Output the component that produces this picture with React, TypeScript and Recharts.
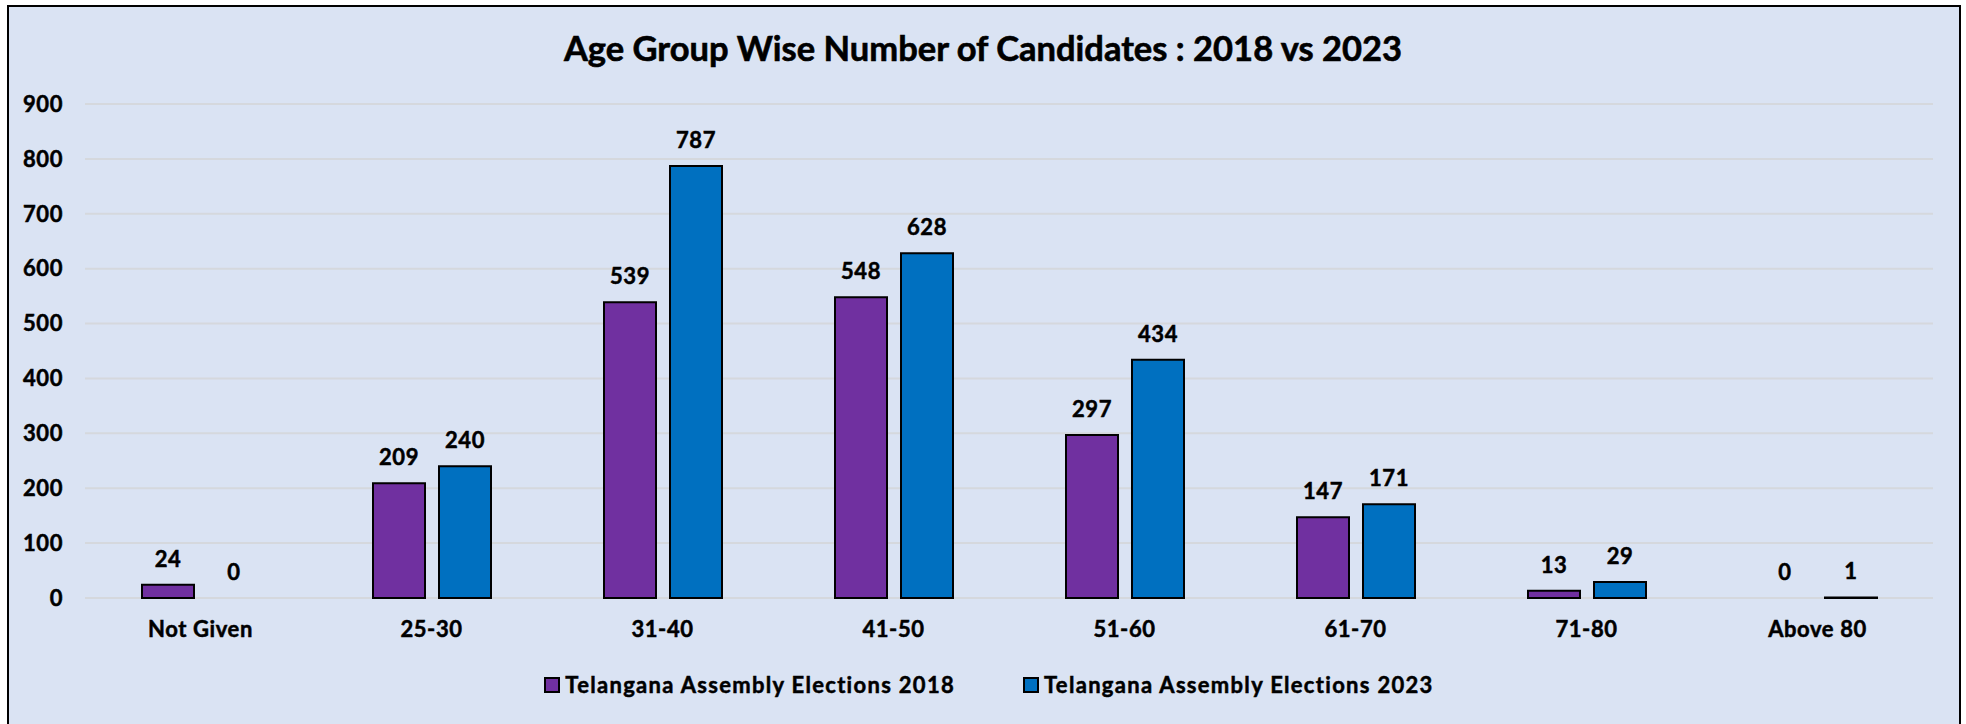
import React from "react";
import { BarChart, Bar, XAxis, YAxis, CartesianGrid, LabelList, Cell } from "recharts";

const ageGroups = ["Not Given", "25-30", "31-40", "41-50", "51-60", "61-70", "71-80", "Above 80"];
const elections2018 = [24, 209, 539, 548, 297, 147, 13, 0];
const elections2023 = [0, 240, 787, 628, 434, 171, 29, 1];
const yTicks = [0, 100, 200, 300, 400, 500, 600, 700, 800, 900];

const name2018 = "Telangana Assembly Elections 2018";
const name2023 = "Telangana Assembly Elections 2023";

const PURPLE = "#7030A0";
const BLUE = "#0070C0";
const FONT = "Lato, 'Noto Sans', sans-serif";

const data = ageGroups.map((g, i) => ({
  group: g,
  y2018: elections2018[i],
  y2023: elections2023[i],
}));

const textStyle = {
  fill: "#000",
  fontSize: 22,
  fontWeight: 700,
  fontFamily: FONT,
  stroke: "#000",
  strokeWidth: 0.5,
  letterSpacing: 0.6,
};

// zero-valued bars still need a (tiny) rect so their "0" label is drawn
const zeroMin = (value: any) => (value === 0 ? 0.01 : 0);

function LegendItem({ color, label }: { color: string; label: string }) {
  return (
    <div style={{ display: "flex", alignItems: "center" }}>
      <span
        style={{
          width: 12,
          height: 12,
          background: color,
          border: "2px solid #000",
          marginRight: 5,
        }}
      />
      <span>{label}</span>
    </div>
  );
}

export default function App() {
  return (
    <div style={{ position: "absolute", left: 0, top: 0, width: 1966, height: 724, background: "#fff", overflow: "hidden" }}>
      <div
        style={{
          position: "absolute",
          left: 7,
          top: 5,
          width: 1950,
          height: 740,
          background: "#DAE3F3",
          border: "2px solid #000",
        }}
      />
      <div
        style={{
          position: "absolute",
          left: 0,
          top: 28,
          width: 1966,
          textAlign: "center",
          fontFamily: FONT,
          fontWeight: 700,
          fontSize: 34.5,
          lineHeight: "40px",
          color: "#000",
          WebkitTextStroke: "0.6px #000",
        }}
      >
        Age Group Wise Number of Candidates : 2018 vs 2023
      </div>
      <div style={{ position: "absolute", left: 0, top: 0 }}>
        <BarChart
          width={1966}
          height={724}
          data={data}
          margin={{ top: 104, right: 33, bottom: 86, left: 0 }}
          barSize={52}
          barGap={14}
        >
          <CartesianGrid vertical={false} stroke="#D5D8DD" strokeWidth={2} />
          <XAxis
            dataKey="group"
            height={40}
            axisLine={false}
            tickLine={false}
            tickSize={0}
            tickMargin={23}
            interval={0}
            tick={textStyle}
          />
          <YAxis
            width={85}
            domain={[0, 900]}
            ticks={yTicks}
            axisLine={false}
            tickLine={false}
            tickSize={0}
            tickMargin={22}
            tick={textStyle}
          />
          <Bar
            dataKey="y2018"
            name={name2018}
            fill={PURPLE}
            stroke="#000"
            strokeWidth={2}
            minPointSize={zeroMin}
            isAnimationActive={false}
          >
            {elections2018.map((v, i) => (
              <Cell key={i} stroke={v === 0 ? "none" : "#000"} />
            ))}
            <LabelList dataKey="y2018" position="top" offset={18} style={textStyle} />
          </Bar>
          <Bar
            dataKey="y2023"
            name={name2023}
            fill={BLUE}
            stroke="#000"
            strokeWidth={2}
            minPointSize={zeroMin}
            isAnimationActive={false}
          >
            {elections2023.map((v, i) => (
              <Cell key={i} stroke={v === 0 ? "none" : "#000"} />
            ))}
            <LabelList dataKey="y2023" position="top" offset={18} style={textStyle} />
          </Bar>
        </BarChart>
      </div>
      <div
        style={{
          position: "absolute",
          left: 0,
          top: 671,
          width: 1966,
          display: "flex",
          justifyContent: "center",
          gap: 68,
          fontFamily: FONT,
          fontWeight: 700,
          fontSize: 22,
          letterSpacing: 1.3,
          lineHeight: "28px",
          color: "#000",
          WebkitTextStroke: "0.5px #000",
          paddingLeft: 12,
          boxSizing: "border-box",
        }}
      >
        <LegendItem color={PURPLE} label={name2018} />
        <LegendItem color={BLUE} label={name2023} />
      </div>
    </div>
  );
}
